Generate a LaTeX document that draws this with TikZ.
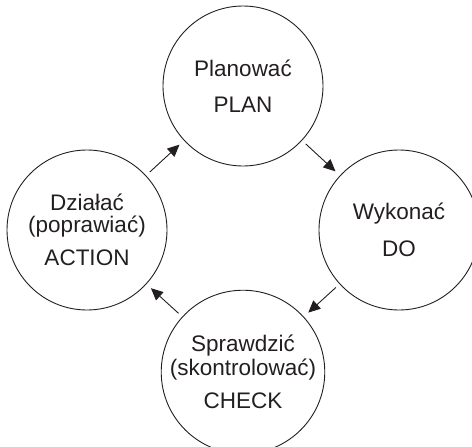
\documentclass[tikz,border=0pt]{standalone}
\usepackage{fontspec}
\setmainfont{Liberation Sans}
\usetikzlibrary{arrows.meta}
\definecolor{ink}{HTML}{231F20}
\begin{document}
\begin{tikzpicture}[x=1pt,y=-1pt,
  phase/.style={circle,draw=ink,line width=0.9pt,minimum size=160pt,inner sep=0pt,
    align=center,text=ink,font=\fontsize{22.5}{20}\selectfont},
  flow/.style={draw=ink,line width=0.9pt,-{Triangle[length=12pt,width=11pt]},
    shorten <=5pt,shorten >=6pt}]
  \useasboundingbox (0,0) rectangle (472,447);
  % the four phases of the cycle
  \node[phase] (plan)  at (243,86)  {Planować\\[16pt]PLAN};
  \node[phase] (do)    at (399,230) {Wykonać\\[16pt]DO};
  \node[phase] (check) at (243,372) {Sprawdzić\\[2pt](skontrolować)\\[12pt]CHECK};
  \node[phase] (act)   at (87,230)  {Działać\\[2pt](poprawiać)\\[12pt]ACTION};
  % transitions between phases
  \draw[flow] (plan) -- (do);
  \draw[flow] (do) -- (check);
  \draw[flow] (check) -- (act);
  \draw[flow] (act) -- (plan);
\end{tikzpicture}
\end{document}
